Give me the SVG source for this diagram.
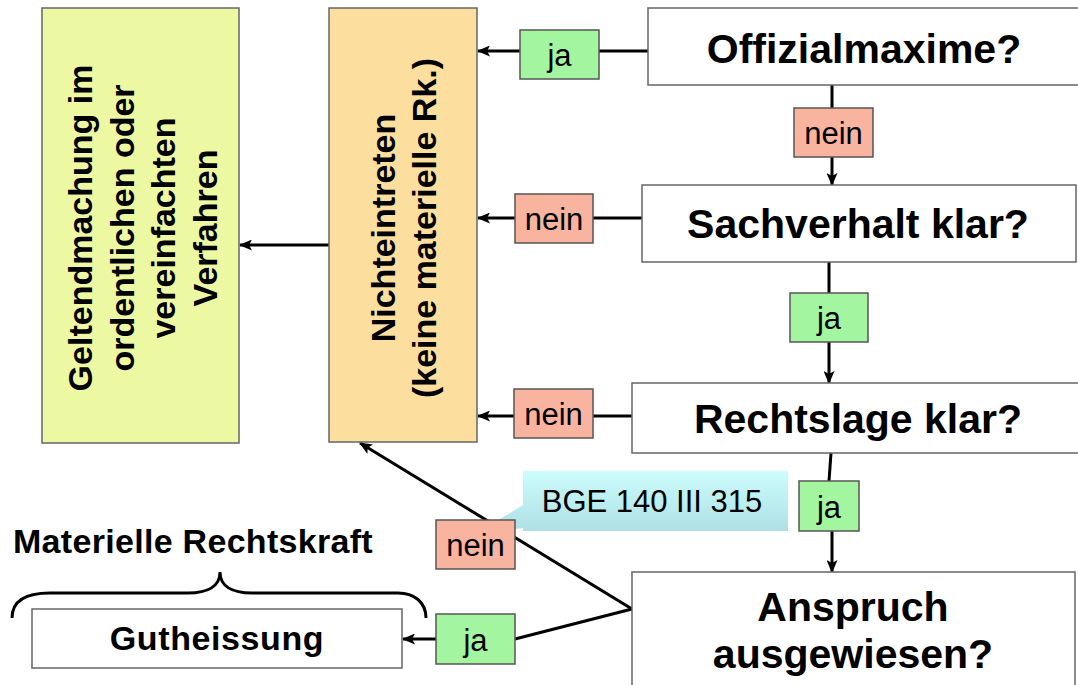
<svg xmlns="http://www.w3.org/2000/svg" width="1078" height="685" viewBox="0 0 1078 685">
<defs>
<marker id="ah" markerUnits="userSpaceOnUse" markerWidth="13" markerHeight="11" refX="12" refY="5.5" orient="auto">
<path d="M0,0 L13,5.5 L0,11 L3,5.5 Z" fill="#000"/>
</marker>
<linearGradient id="cy" x1="0" y1="0" x2="0" y2="1">
<stop offset="0" stop-color="#CCFCFC"/>
<stop offset="1" stop-color="#ADDFE3"/>
</linearGradient>
</defs>
<style>
.box{fill:#fff;stroke:#666;stroke-width:1.5}
.q{font-family:"Liberation Sans",Arial,sans-serif;font-weight:bold;font-size:41px;fill:#000;text-anchor:middle}
.b{font-family:"Liberation Sans",Arial,sans-serif;font-weight:bold;font-size:34px;fill:#000;text-anchor:middle}
.lbl{font-family:"Liberation Sans",Arial,sans-serif;font-size:31px;fill:#000;text-anchor:middle}
.ja{fill:#A4F5A0;stroke:#555;stroke-width:1.5}
.nein{fill:#F9B4A0;stroke:#555;stroke-width:1.5}
.c{fill:none;stroke:#000;stroke-width:3}
.ca{fill:none;stroke:#000;stroke-width:3;marker-end:url(#ah)}
</style>

<g id="connectors">
<path class="ca" d="M520,51 L478,51"/>
<path class="c" d="M648,51 L599,51"/>
<path class="ca" d="M515,218 L478,218"/>
<path class="c" d="M642,218 L593,218"/>
<path class="ca" d="M514,416 L478,416"/>
<path class="c" d="M632,416 L593,416"/>
<path class="ca" d="M329,245 L240,245"/>
<path class="c" d="M832,85 L832,108"/>
<path class="ca" d="M832,157 L832,185"/>
<path class="c" d="M829,262 L829,293"/>
<path class="ca" d="M829,342 L829,383"/>
<path class="c" d="M831,453 L829,481"/>
<path class="ca" d="M832,531 L832,572"/>
<path class="ca" d="M632,609 L360,443"/>
<path class="c" d="M632,609 L515,639"/>
<path class="ca" d="M436,639 L403,639"/>
</g>

<g id="node-geltendmachung">
<rect x="42" y="8" width="197" height="435" fill="#EDF8A2" stroke="#666" stroke-width="1.5"/>
<g transform="rotate(-90)">
<text class="b" x="-228" y="92">Geltendmachung im</text>
<text class="b" x="-228" y="134">ordentlichen oder</text>
<text class="b" x="-228" y="175">vereinfachten</text>
<text class="b" x="-228" y="217">Verfahren</text>
</g>
</g>

<g id="node-nichteintreten">
<rect x="329" y="8" width="148" height="434" fill="#FCDE9E" stroke="#666" stroke-width="1.5"/>
<g transform="rotate(-90)">
<text class="b" x="-228" y="395">Nichteintreten</text>
<text class="b" x="-228" y="436">(keine materielle Rk.)</text>
</g>
</g>

<g id="node-offizialmaxime">
<rect class="box" x="648" y="8" width="440" height="77"/>
<text class="q" x="864" y="63">Offizialmaxime?</text>
</g>

<g id="node-sachverhalt">
<rect class="box" x="642" y="185" width="434" height="77"/>
<text class="q" x="858" y="238">Sachverhalt klar?</text>
</g>

<g id="node-rechtslage">
<rect class="box" x="632" y="383" width="456" height="70"/>
<text class="q" x="858" y="433">Rechtslage klar?</text>
</g>

<g id="node-anspruch">
<rect class="box" x="632" y="572" width="443" height="130"/>
<text class="q" x="853" y="621">Anspruch</text>
<text class="q" x="853" y="668">ausgewiesen?</text>
</g>

<g id="node-gutheissung">
<rect class="box" x="32" y="609" width="370" height="59"/>
<text class="b" x="217" y="650" style="letter-spacing:0.6px">Gutheissung</text>
</g>

<g id="node-materielle-rechtskraft">
<text class="b" x="13" y="553" style="text-anchor:start;letter-spacing:0.3px">Materielle Rechtskraft</text>
<path d="M12,618 C12,602 24,593 50,593 L188,593 C208,593 220,586 220,572 C220,586 232,593 252,593 L398,593 C414,593 426,602 426,618" fill="none" stroke="#000" stroke-width="3"/>
</g>

<g id="callout-bge">
<path d="M523,471 L788,471 L788,531 L523,531 L523,528 L477,533 L523,505 Z" fill="url(#cy)"/>
<text class="lbl" x="652" y="512">BGE 140 III 315</text>
</g>

<g id="labels">
<g id="label-ja-1"><rect class="ja" x="520" y="30" width="79" height="49"/><text class="lbl" x="559.5" y="66">ja</text></g>
<g id="label-nein-1"><rect class="nein" x="794" y="108" width="79" height="49"/><text class="lbl" x="833.5" y="144">nein</text></g>
<g id="label-nein-2"><rect class="nein" x="515" y="194" width="78" height="49"/><text class="lbl" x="554" y="230">nein</text></g>
<g id="label-ja-2"><rect class="ja" x="790" y="293" width="78" height="49"/><text class="lbl" x="829" y="329">ja</text></g>
<g id="label-nein-3"><rect class="nein" x="514" y="389" width="79" height="49"/><text class="lbl" x="553.5" y="425">nein</text></g>
<g id="label-ja-3"><rect class="ja" x="799" y="481" width="60" height="50"/><text class="lbl" x="829" y="518">ja</text></g>
<g id="label-nein-4"><rect class="nein" x="436" y="520" width="79" height="49"/><text class="lbl" x="475.5" y="556">nein</text></g>
<g id="label-ja-4"><rect class="ja" x="436" y="614" width="79" height="50"/><text class="lbl" x="475.5" y="651">ja</text></g>
</g>
</svg>
